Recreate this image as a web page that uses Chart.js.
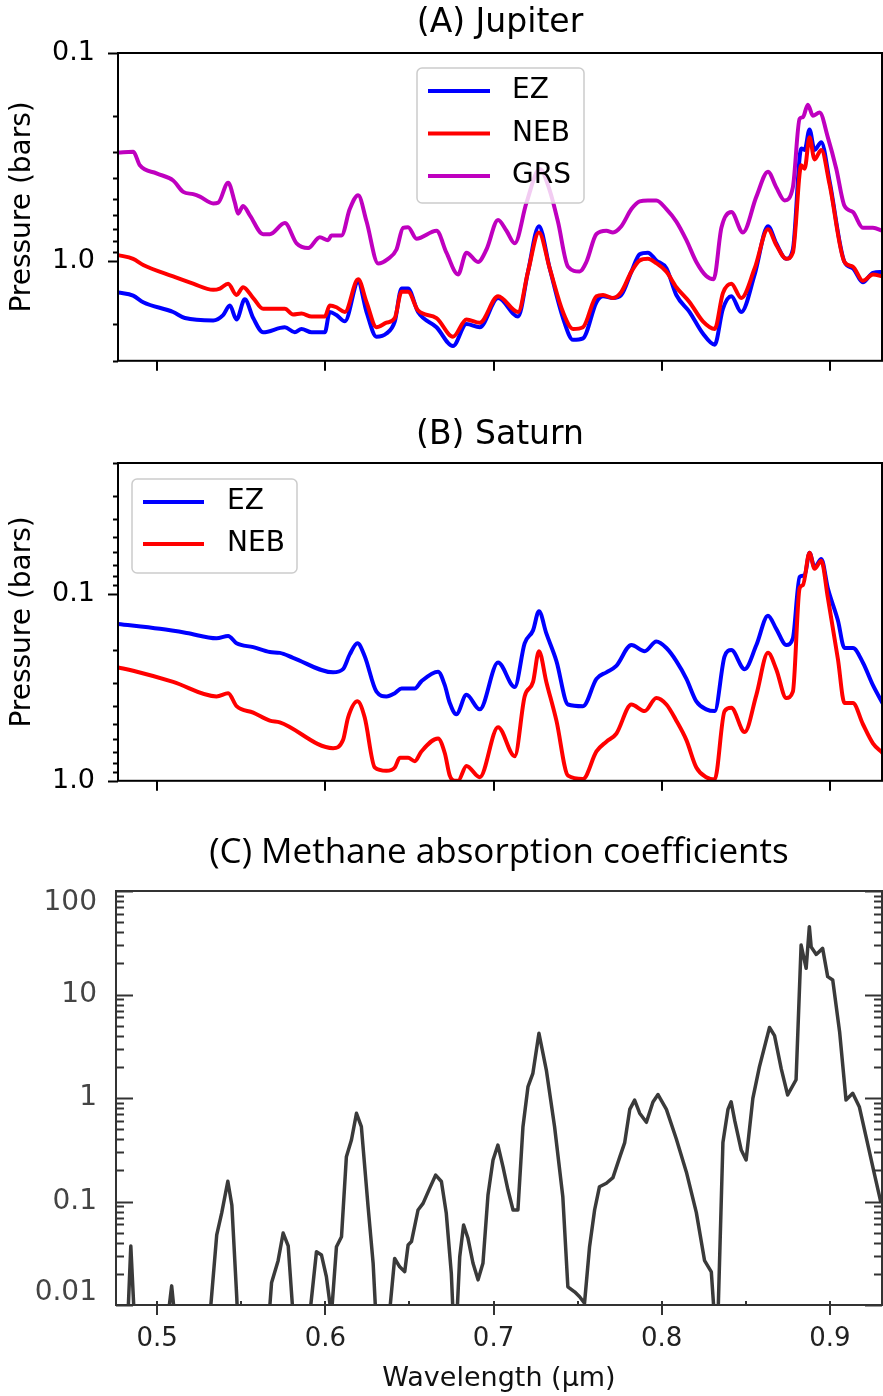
<!DOCTYPE html>
<html>
<head>
<meta charset="utf-8">
<title>Retrieved cloud pressures and methane absorption</title>
<script src="https://cdn.jsdelivr.net/npm/chart.js@4.4.1/dist/chart.umd.min.js"></script>
<style>
  html, body { margin: 0; padding: 0; background: #fff; }
  #page { position: relative; width: 883px; height: 1396px; overflow: hidden; }
  #page canvas { position: absolute; left: 0; }
</style>
</head>
<body>
<div id="page">
  <canvas id="jupiterChart" width="883" height="400" style="top:0px"></canvas>
  <canvas id="saturnChart" width="883" height="420" style="top:400px"></canvas>
  <canvas id="methaneChart" width="883" height="576" style="top:820px"></canvas>
</div>
<script>
// ---- Jupiter: cloud-top pressure (bars) vs wavelength (um) ----
const jupEzWl = [0.4768, 0.4857, 0.4917, 0.5095, 0.5165, 0.5333, 0.5392, 0.5432, 0.5472, 0.5521, 0.5571, 0.5630,
  0.5759, 0.5818, 0.5858, 0.5918, 0.5997, 0.6026, 0.6066, 0.6116, 0.6195, 0.6245, 0.6304, 0.6363, 0.6413, 0.6453,
  0.6492, 0.6551, 0.6661, 0.6759, 0.6839, 0.6918, 0.7027, 0.7146, 0.7205, 0.7270, 0.7334, 0.7413, 0.7473, 0.7532,
  0.7612, 0.7651, 0.7710, 0.7760, 0.7820, 0.7869, 0.7918, 0.7968, 0.8028, 0.8087, 0.8166, 0.8245, 0.8315, 0.8364,
  0.8414, 0.8473, 0.8553, 0.8632, 0.8681, 0.8741, 0.8780, 0.8830, 0.8850, 0.8879, 0.8909, 0.8949, 0.8998, 0.9087,
  0.9137, 0.9196, 0.9256, 0.9313];
const jupEz = [1.41, 1.46, 1.57, 1.75, 1.87, 1.92, 1.81, 1.63, 1.90, 1.52, 1.87, 2.19,
  2.07, 2.19, 2.11, 2.19, 2.19, 1.75, 1.81, 1.94, 1.26, 1.75, 2.30, 2.22, 1.94, 1.35,
  1.35, 1.75, 2.07, 2.55, 2.00, 2.07, 1.50, 1.84, 1.12, 0.678, 1.08, 1.87, 2.38, 2.34,
  1.57, 1.47, 1.50, 1.45, 1.12, 0.924, 0.908, 0.990, 1.08, 1.45, 1.75, 2.22, 2.51, 1.69,
  1.47, 1.75, 1.155, 0.678, 0.819, 0.972, 0.877, 0.287, 0.292, 0.233, 0.292, 0.268, 0.411, 1.007,
  1.08, 1.26, 1.135, 1.124];

const jupNebWl = [0.4768, 0.4857, 0.4917, 0.5095, 0.5214, 0.5333, 0.5373, 0.5422, 0.5472, 0.5511, 0.5571, 0.5630,
  0.5759, 0.5808, 0.5858, 0.5918, 0.5997, 0.6026, 0.6066, 0.6116, 0.6195, 0.6245, 0.6304, 0.6363, 0.6413, 0.6453,
  0.6492, 0.6551, 0.6661, 0.6759, 0.6839, 0.6918, 0.7027, 0.7146, 0.7205, 0.7270, 0.7334, 0.7413, 0.7473, 0.7532,
  0.7612, 0.7651, 0.7710, 0.7760, 0.7820, 0.7869, 0.7918, 0.7968, 0.8028, 0.8087, 0.8166, 0.8245, 0.8315, 0.8364,
  0.8414, 0.8473, 0.8553, 0.8632, 0.8681, 0.8741, 0.8780, 0.8830, 0.8850, 0.8879, 0.8909, 0.8949, 0.8998, 0.9087,
  0.9137, 0.9196, 0.9256, 0.9313];
const jupNeb = [0.933, 0.972, 1.04, 1.18, 1.28, 1.37, 1.35, 1.28, 1.45, 1.33, 1.50, 1.69,
  1.69, 1.80, 1.78, 1.84, 1.84, 1.63, 1.66, 1.75, 1.22, 1.57, 2.07, 1.97, 1.87, 1.40,
  1.40, 1.72, 1.87, 2.30, 1.90, 1.97, 1.47, 1.75, 1.12, 0.726, 1.08, 1.75, 2.11, 2.07,
  1.47, 1.45, 1.50, 1.40, 1.12, 0.990, 0.972, 1.02, 1.12, 1.33, 1.57, 1.94, 2.11, 1.42,
  1.28, 1.50, 1.08, 0.702, 0.833, 0.972, 0.908, 0.346, 0.359, 0.254, 0.324, 0.292, 0.426, 1.007,
  1.06, 1.24, 1.155, 1.18];

const jupGrsWl = [0.4769, 0.4858, 0.4897, 0.4996, 0.5095, 0.5155, 0.5214, 0.5254, 0.5333, 0.5363, 0.5422, 0.5462,
  0.5481, 0.5511, 0.5551, 0.5630, 0.5670, 0.5759, 0.5829, 0.5898, 0.5967, 0.6016, 0.6036, 0.6096, 0.6145, 0.6195,
  0.6245, 0.6314, 0.6373, 0.6423, 0.6462, 0.6492, 0.6542, 0.6661, 0.6720, 0.6789, 0.6839, 0.6908, 0.6958, 0.7027,
  0.7077, 0.7126, 0.7196, 0.7275, 0.7334, 0.7383, 0.7443, 0.7512, 0.7552, 0.7612, 0.7671, 0.7710, 0.7760, 0.7820,
  0.7869, 0.7918, 0.7968, 0.8028, 0.8087, 0.8147, 0.8206, 0.8265, 0.8309, 0.8355, 0.8414, 0.8483, 0.8563, 0.8632,
  0.8681, 0.8731, 0.8780, 0.8820, 0.8840, 0.8869, 0.8899, 0.8939, 0.8988, 0.9038, 0.9087, 0.9137, 0.9196, 0.9256,
  0.9313];
const jupGrs = [0.300, 0.298, 0.346, 0.378, 0.409, 0.464, 0.476, 0.489, 0.527, 0.523, 0.419, 0.523,
  0.590, 0.542, 0.601, 0.740, 0.740, 0.655, 0.819, 0.863, 0.765, 0.791, 0.751, 0.751, 0.561, 0.481,
  0.644, 1.023, 0.972, 0.877, 0.690, 0.685, 0.778, 0.713, 0.908, 1.155, 0.908, 1.007, 0.877, 0.633,
  0.713, 0.819, 0.523, 0.360, 0.456, 0.644, 1.061, 1.117, 1.007, 0.739, 0.713, 0.726, 0.678, 0.561,
  0.515, 0.510, 0.510, 0.561, 0.644, 0.791, 1.007, 1.176, 1.217, 0.690, 0.580, 0.726, 0.489, 0.371,
  0.441, 0.510, 0.441, 0.207, 0.203, 0.177, 0.200, 0.193, 0.254, 0.359, 0.542, 0.580, 0.690, 0.690,
  0.713];

// ---- Saturn ----
const satEzWl = [0.4768, 0.5016, 0.5175, 0.5353, 0.5422, 0.5472, 0.5571, 0.5670, 0.5729, 0.5808, 0.6046, 0.6105,
  0.6145, 0.6191, 0.6234, 0.6304, 0.6363, 0.6413, 0.6453, 0.6532, 0.6571, 0.6670, 0.6710, 0.6740, 0.6779, 0.6839,
  0.6918, 0.7027, 0.7126, 0.7185, 0.7235, 0.7270, 0.7314, 0.7374, 0.7443, 0.7532, 0.7612, 0.7671, 0.7730, 0.7820,
  0.7899, 0.7968, 0.8028, 0.8087, 0.8147, 0.8206, 0.8265, 0.8315, 0.8374, 0.8414, 0.8493, 0.8563, 0.8632, 0.8681,
  0.8741, 0.8780, 0.8820, 0.8850, 0.8879, 0.8909, 0.8949, 0.8988, 0.9048, 0.9087, 0.9137, 0.9196, 0.9256, 0.9313];
const satEz = [0.145, 0.154, 0.162, 0.173, 0.168, 0.184, 0.193, 0.205, 0.207, 0.220, 0.263, 0.253,
  0.211, 0.184, 0.216, 0.334, 0.354, 0.340, 0.321, 0.321, 0.294, 0.261, 0.308, 0.384, 0.441, 0.347,
  0.415, 0.233, 0.315, 0.184, 0.157, 0.124, 0.163, 0.229, 0.391, 0.399, 0.285, 0.263, 0.243, 0.188,
  0.203, 0.180, 0.195, 0.229, 0.285, 0.376, 0.415, 0.424, 0.216, 0.200, 0.253, 0.188, 0.131, 0.154,
  0.188, 0.173, 0.0813, 0.0797, 0.0604, 0.0722, 0.0653, 0.0934, 0.139, 0.195, 0.195, 0.233, 0.308, 0.384];

const satNebWl = [0.4768, 0.4857, 0.5095, 0.5353, 0.5422, 0.5472, 0.5571, 0.5670, 0.5729, 0.6046, 0.6105, 0.6135,
  0.6191, 0.6234, 0.6294, 0.6363, 0.6413, 0.6443, 0.6492, 0.6532, 0.6571, 0.6670, 0.6710, 0.6740, 0.6769, 0.6789,
  0.6839, 0.6918, 0.7027, 0.7126, 0.7185, 0.7235, 0.7270, 0.7314, 0.7374, 0.7443, 0.7532, 0.7612, 0.7671, 0.7730,
  0.7820, 0.7899, 0.7968, 0.8028, 0.8087, 0.8147, 0.8206, 0.8265, 0.8315, 0.8374, 0.8414, 0.8493, 0.8563, 0.8632,
  0.8681, 0.8741, 0.8780, 0.8820, 0.8840, 0.8879, 0.8909, 0.8949, 0.8988, 0.9048, 0.9087, 0.9137, 0.9196, 0.9256,
  0.9313];
const satNeb = [0.248, 0.258, 0.296, 0.354, 0.340, 0.399, 0.432, 0.477, 0.487, 0.669, 0.606, 0.459,
  0.376, 0.459, 0.849, 0.884, 0.849, 0.754, 0.754, 0.785, 0.697, 0.594, 0.710, 0.939, 1.0, 1.0,
  0.833, 0.957, 0.517, 0.739, 0.354, 0.296, 0.203, 0.296, 0.477, 0.939, 0.977, 0.697, 0.618, 0.560,
  0.391, 0.424, 0.361, 0.391, 0.477, 0.606, 0.849, 0.957, 0.985, 0.424, 0.407, 0.549, 0.347, 0.207,
  0.253, 0.361, 0.334, 0.0934, 0.0898, 0.0604, 0.0736, 0.0667, 0.105, 0.224, 0.384, 0.384, 0.497, 0.630,
  0.710];

// ---- Methane absorption coefficient ----
const ch4Wl = [0.4766, 0.4823, 0.4843, 0.4867, 0.5056, 0.5086, 0.5111, 0.5314, 0.5354, 0.5384, 0.5420, 0.5444,
  0.5473, 0.5481, 0.5660, 0.5680, 0.5719, 0.5749, 0.5779, 0.5808, 0.5907, 0.5947, 0.5977, 0.6006, 0.6036, 0.6066,
  0.6096, 0.6125, 0.6155, 0.6185, 0.6214, 0.6254, 0.6284, 0.6304, 0.6373, 0.6412, 0.6442, 0.6472, 0.6492, 0.6512,
  0.6551, 0.6581, 0.6620, 0.6656, 0.6690, 0.6719, 0.6749, 0.6763, 0.6779, 0.6799, 0.6822, 0.6848, 0.6878, 0.6908,
  0.6937, 0.6967, 0.6997, 0.7026, 0.7056, 0.7086, 0.7116, 0.7145, 0.7175, 0.7205, 0.7234, 0.7270, 0.7314, 0.7363,
  0.7412, 0.7442, 0.7482, 0.7512, 0.7541, 0.7571, 0.7601, 0.7630, 0.7671, 0.7710, 0.7750, 0.7780, 0.7810, 0.7839,
  0.7869, 0.7909, 0.7948, 0.7978, 0.8028, 0.8087, 0.8147, 0.8206, 0.8255, 0.8295, 0.8315, 0.8334, 0.8364, 0.8394,
  0.8413, 0.8434, 0.8473, 0.8502, 0.8542, 0.8581, 0.8641, 0.8671, 0.8711, 0.8749, 0.8799, 0.8829, 0.8859, 0.8878,
  0.8889, 0.8919, 0.8957, 0.8987, 0.9017, 0.9058, 0.9096, 0.9136, 0.9175, 0.9215, 0.9264, 0.9304];
const ch4K = [0.005, 0.006, 0.0372, 0.006, 0.006, 0.0153, 0.006, 0.008, 0.0475, 0.078, 0.157, 0.092,
  0.0119, 0.006, 0.006, 0.0164, 0.0268, 0.0496, 0.0372, 0.008, 0.008, 0.0327, 0.0304, 0.0188, 0.008, 0.0366,
  0.0457, 0.271, 0.393, 0.711, 0.528, 0.0891, 0.0253, 0.006, 0.006, 0.0282, 0.0234, 0.021, 0.038, 0.041,
  0.0828, 0.096, 0.134, 0.180, 0.156, 0.0769, 0.0202, 0.006, 0.006, 0.0293, 0.0593, 0.0441, 0.0253, 0.0175,
  0.0253, 0.1155, 0.252, 0.351, 0.217, 0.129, 0.0828, 0.0828, 0.528, 1.29, 1.73, 4.22, 1.86, 0.528,
  0.111, 0.015, 0.0134, 0.012, 0.0104, 0.0366, 0.0828, 0.139, 0.150, 0.170, 0.267, 0.371, 0.776, 0.953,
  0.713, 0.582, 0.914, 1.08, 0.776, 0.402, 0.192, 0.078, 0.0268, 0.0209, 0.007, 0.007, 0.371, 0.776,
  0.92, 0.607, 0.314, 0.252, 0.993, 2.0, 4.8, 4.00, 1.91, 1.07, 1.5, 30, 17.9, 45.2,
  28.7, 24.4, 27.9, 14.9, 13.8, 4.35, 0.957, 1.11, 0.824, 0.423, 0.187, 0.097];

// Axis tick values
const wlTicks = [0.5, 0.6, 0.7, 0.8, 0.9];
const wlMinorTicks = [0.5, 0.55, 0.6, 0.65, 0.7, 0.75, 0.8, 0.85, 0.9];
const pressTicks = [0.1, 1];
const kTicks = [0.01, 0.1, 1, 10, 100];

const FONT = "'DejaVu Sans', 'Liberation Sans', sans-serif";

const toPoints = (xs, ys) => xs.map((x, i) => ({ x, y: ys[i] }));

// 2..9 x 10^n between lo and hi
function logMinors(lo, hi) {
    const out = [];
    for (let e = Math.floor(Math.log10(lo)); e <= Math.ceil(Math.log10(hi)); e++) {
        for (let m = 2; m <= 9; m++) {
            const v = m * Math.pow(10, e);
            if (v >= lo * 0.999 && v <= hi * 1.001) out.push(v);
        }
    }
    return out;
}

// -------- Plugins --------

// box spines + major/minor tick marks
const framePlugin = {
    id: 'frame',
    afterDatasetsDraw(chart, args, o) {
        const { ctx, chartArea: a, scales: { x, y } } = chart;
        ctx.save();
        ctx.strokeStyle = o.color;
        ctx.lineWidth = o.lineWidth;
        ctx.lineCap = 'butt';

        const seg = (x1, y1, x2, y2) => {
            ctx.beginPath();
            ctx.moveTo(x1, y1);
            ctx.lineTo(x2, y2);
            ctx.stroke();
        };

        // y ticks: dir -1 points outward (left), +1 inward
        const yTick = (v, len) => {
            const py = Math.round(y.getPixelForValue(v)) + 0.5;
            seg(a.left, py, a.left + o.yDir * len, py);
            if (o.yRight) seg(a.right, py, a.right - o.yDir * len, py);
        };
        o.yMinor.forEach(v => yTick(v, o.yMinorLen));
        o.yMajor.forEach(v => yTick(v, o.yMajorLen));

        o.xMajor.forEach(v => {
            const px = Math.round(x.getPixelForValue(v));
            seg(px, a.bottom, px, a.bottom + o.xMajorLen);
        });
        (o.xInner || []).forEach(v => {
            const px = Math.round(x.getPixelForValue(v));
            seg(px, a.bottom, px, a.bottom - o.xInnerLen);
        });

        ctx.strokeRect(a.left, a.top, a.right - a.left, a.bottom - a.top);
        ctx.restore();
    }
};

// legend box drawn inside the plot area
const insetLegendPlugin = {
    id: 'insetLegend',
    afterDraw(chart, args, o) {
        if (!o.show) return;
        const { ctx, chartArea: a } = chart;
        const bx = a.left + o.left;
        const by = a.top + o.top;

        ctx.save();
        ctx.beginPath();
        ctx.roundRect(bx, by, o.width, o.height, 5);
        ctx.fillStyle = 'rgba(255,255,255,0.8)';
        ctx.fill();
        ctx.lineWidth = 1.5;
        ctx.strokeStyle = '#cccccc';
        ctx.stroke();

        ctx.font = `28px ${FONT}`;
        ctx.textBaseline = 'middle';
        ctx.textAlign = 'left';
        chart.data.datasets.forEach((ds, i) => {
            const cy = by + o.firstRow + i * o.rowGap;
            ctx.strokeStyle = ds.borderColor;
            ctx.lineWidth = ds.borderWidth;
            ctx.beginPath();
            ctx.moveTo(bx + o.lineX, cy);
            ctx.lineTo(bx + o.lineX + o.lineLen, cy);
            ctx.stroke();
            ctx.fillStyle = '#000';
            ctx.fillText(ds.label, bx + o.textX, cy);
        });
        ctx.restore();
    }
};

Chart.register(framePlugin, insetLegendPlugin);

// -------- Charts --------

function series(label, xs, ys, color, order) {
    return {
        label,
        data: toPoints(xs, ys),
        borderColor: color,
        borderWidth: 4,
        borderJoinStyle: 'round',
        borderCapStyle: 'round',
        cubicInterpolationMode: 'monotone',
        pointRadius: 0,
        order
    };
}

function pressureChart(canvasId, title, titlePad, datasets, yMin, yMax, legend, xHeight) {
    return new Chart(document.getElementById(canvasId), {
        type: 'line',
        data: { datasets },
        options: {
            responsive: false,
            animation: false,
            devicePixelRatio: 1,
            layout: { padding: { left: 0, right: 1, top: 0, bottom: 0 } },
            plugins: {
                legend: { display: false },
                tooltip: { enabled: false },
                title: {
                    display: true,
                    text: title,
                    fullSize: false,
                    color: '#000',
                    font: { family: FONT, size: 33, weight: 'normal' },
                    padding: titlePad
                },
                frame: {
                    color: '#000', lineWidth: 2,
                    yMajor: pressTicks, yMinor: logMinors(yMin, yMax),
                    yMajorLen: 10, yMinorLen: 5, yDir: -1, yRight: false,
                    xMajor: wlTicks, xMajorLen: 10
                },
                insetLegend: legend
            },
            scales: {
                x: {
                    type: 'linear',
                    min: 0.4767,
                    max: 0.931,
                    grid: { display: false, drawTicks: false },
                    border: { display: false },
                    ticks: { display: false },
                    afterFit: s => { s.height = xHeight; }
                },
                y: {
                    type: 'logarithmic',
                    reverse: true,
                    min: yMin,
                    max: yMax,
                    grid: { display: false, drawTicks: false },
                    border: { display: false },
                    afterBuildTicks: s => { s.ticks = pressTicks.map(value => ({ value })); },
                    ticks: {
                        callback: v => (v < 0.5 ? '0.1' : '1.0'),
                        color: '#000',
                        font: { family: FONT, size: 27 },
                        padding: 23
                    },
                    title: {
                        display: true,
                        text: 'Pressure (bars)',
                        color: '#000',
                        font: { family: FONT, size: 28 },
                        padding: { top: 6, bottom: 0 }
                    },
                    afterFit: s => { s.width = 118; }
                }
            }
        }
    });
}

pressureChart('jupiterChart', '(A) Jupiter', { top: 4, bottom: 9.4 }, [
    series('EZ', jupEzWl, jupEz, '#0000ff', 3),
    series('NEB', jupNebWl, jupNeb, '#ff0000', 2),
    series('GRS', jupGrsWl, jupGrs, '#bf00bf', 1)
], 0.1, 3, {
    show: true, left: 299, top: 15, width: 167, height: 135,
    firstRow: 23, rowGap: 42.5, lineX: 11, lineLen: 62, textX: 95
}, 18);

pressureChart('saturnChart', '(B) Saturn', { top: 16, bottom: 7.4 }, [
    series('EZ', satEzWl, satEz, '#0000ff', 2),
    series('NEB', satNebWl, satNeb, '#ff0000', 1)
], 0.02, 1, {
    show: true, left: 14, top: 16, width: 165, height: 94,
    firstRow: 23, rowGap: 42, lineX: 11, lineLen: 61, textX: 95
}, 28);

new Chart(document.getElementById('methaneChart'), {
    type: 'line',
    data: {
        datasets: [{
            label: 'CH4',
            data: toPoints(ch4Wl, ch4K),
            borderColor: '#3a3a3a',
            borderWidth: 3.5,
            borderJoinStyle: 'round',
            pointRadius: 0,
            tension: 0
        }]
    },
    options: {
        responsive: false,
        animation: false,
        devicePixelRatio: 1,
        layout: { padding: { left: 0, right: 1, top: 0, bottom: 0 } },
        plugins: {
            legend: { display: false },
            tooltip: { enabled: false },
            title: {
                display: true,
                text: '(C) Methane absorption coefficients',
                fullSize: false,
                color: '#000',
                font: { family: "'Open Sans', sans-serif", size: 35, weight: 'normal' },
                padding: { top: 12.4, bottom: 16.6 }
            },
            frame: {
                color: '#333', lineWidth: 2,
                yMajor: kTicks, yMinor: logMinors(0.01, 100),
                yMajorLen: 17, yMinorLen: 8, yDir: 1, yRight: true,
                xMajor: wlTicks, xMajorLen: 10,
                xInner: wlMinorTicks, xInnerLen: 4
            },
            insetLegend: { show: false }
        },
        scales: {
            x: {
                type: 'linear',
                min: 0.4755,
                max: 0.931,
                grid: { display: false, drawTicks: false },
                border: { display: false },
                afterBuildTicks: s => { s.ticks = wlTicks.map(value => ({ value })); },
                ticks: {
                    callback: v => v.toFixed(1),
                    color: '#222',
                    font: { family: FONT, size: 26 },
                    padding: 19,
                    maxRotation: 0
                },
                title: {
                    display: true,
                    text: 'Wavelength (μm)',
                    color: '#111',
                    font: { family: FONT, size: 27 },
                    padding: { top: 0, bottom: 1 }
                },
                afterFit: s => { s.height = 91; }
            },
            y: {
                type: 'logarithmic',
                min: 0.01,
                max: 100,
                grid: { display: false, drawTicks: false },
                border: { display: false },
                afterBuildTicks: s => { s.ticks = kTicks.map(value => ({ value })); },
                ticks: {
                    // end labels are nudged inside the frame with a blank second line
                    callback: v => (v >= 100 ? ['', '100'] : v <= 0.01 ? ['0.01', ''] : String(v)),
                    color: '#444',
                    font: { family: FONT, size: 28, lineHeight: 0.85 },
                    padding: 19
                },
                afterFit: s => { s.width = 116; }
            }
        }
    }
});
</script>
</body>
</html>
